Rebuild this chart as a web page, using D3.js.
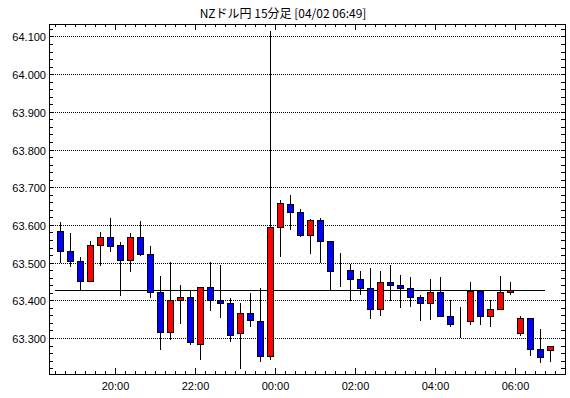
<!DOCTYPE html>
<html>
<head>
<meta charset="utf-8">
<script src="https://cdnjs.cloudflare.com/ajax/libs/d3/7.8.5/d3.min.js"></script>
<style>
  body { margin: 0; background: #fff; }
  svg { display: block; }
</style>
</head>
<body>
<div id="chart"></div>
<script>
const title = "NZドル円 15分足 [04/02 06:49]";

const times = [
  "18:30", "18:45", "19:00", "19:15", "19:30", "19:45", "20:00", "20:15", "20:30", "20:45",
  "21:00", "21:15", "21:30", "21:45", "22:00", "22:15", "22:30", "22:45", "23:00", "23:15",
  "23:30", "23:45", "00:00", "00:15", "00:30", "00:45", "01:00", "01:15", "01:30", "01:45",
  "02:00", "02:15", "02:30", "02:45", "03:00", "03:15", "03:30", "03:45", "04:00", "04:15",
  "04:30", "04:45", "05:00", "05:15", "05:30", "05:45", "06:00", "06:15", "06:30", "06:45"
];
const opens = [
  63.583, 63.530, 63.503, 63.450, 63.546, 63.567, 63.546, 63.506, 63.567, 63.522,
  63.421, 63.315, 63.402, 63.410, 63.285, 63.434, 63.402, 63.392, 63.312, 63.365,
  63.344, 63.253, 63.594, 63.656, 63.634, 63.573, 63.613, 63.557, 63.478, 63.480,
  63.456, 63.432, 63.376, 63.448, 63.440, 63.432, 63.410, 63.392, 63.421, 63.357,
  63.342, 63.344, 63.424, 63.357, 63.378, 63.422, 63.312, 63.352, 63.272, 63.267
];
const highs = [
  63.608, 63.579, 63.514, 63.557, 63.581, 63.619, 63.554, 63.579, 63.611, 63.544,
  63.464, 63.502, 63.440, 63.426, 63.434, 63.501, 63.494, 63.405, 63.394, 63.418,
  63.432, 64.115, 63.666, 63.680, 63.642, 63.615, 63.619, 63.557, 63.525, 63.496,
  63.478, 63.485, 63.478, 63.493, 63.467, 63.461, 63.413, 63.456, 63.462, 63.400,
  63.381, 63.448, 63.424, 63.400, 63.464, 63.448, 63.357, 63.352, 63.323, 63.280
];
const lows = [
  63.502, 63.491, 63.427, 63.450, 63.494, 63.530, 63.415, 63.479, 63.519, 63.409,
  63.272, 63.296, 63.339, 63.285, 63.244, 63.373, 63.355, 63.293, 63.219, 63.333,
  63.240, 63.245, 63.517, 63.589, 63.570, 63.525, 63.501, 63.427, 63.438, 63.400,
  63.416, 63.352, 63.362, 63.400, 63.381, 63.384, 63.347, 63.349, 63.357, 63.333,
  63.303, 63.336, 63.336, 63.331, 63.376, 63.416, 63.307, 63.256, 63.235, 63.238
];
const closes = [
  63.530, 63.503, 63.450, 63.546, 63.567, 63.543, 63.506, 63.567, 63.522, 63.421,
  63.315, 63.402, 63.410, 63.288, 63.434, 63.402, 63.392, 63.309, 63.365, 63.347,
  63.253, 63.594, 63.658, 63.634, 63.573, 63.613, 63.557, 63.477, 63.478, 63.456,
  63.432, 63.376, 63.448, 63.440, 63.432, 63.410, 63.392, 63.421, 63.357, 63.336,
  63.342, 63.424, 63.357, 63.378, 63.422, 63.427, 63.352, 63.272, 63.250, 63.280
];
const refLevel = 63.4266;
const yTicks = [63.3, 63.4, 63.5, 63.6, 63.7, 63.8, 63.9, 64.0, 64.1];
const xTickLabels = ["20:00", "22:00", "00:00", "02:00", "04:00", "06:00"];

const W = 570, H = 398;
const plotLeft = 49, plotRight = 565, plotTop = 24, plotBottom = 374;

// times after midnight belong to the next day
function toDate(s) {
  const [h, m] = s.split(":").map(Number);
  return new Date(2024, 3, h >= 12 ? 1 : 2, h, m);
}

const x = d3.scaleTime()
  .domain([new Date(2024, 3, 1, 18, 21), new Date(2024, 3, 2, 7, 15)])
  .range([plotLeft, plotRight]);
const y = d3.scaleLinear()
  .domain([63.2044, 64.133])
  .range([plotBottom, plotTop]);

const data = times.map((t, i) => ({
  t: toDate(t), o: opens[i], h: highs[i], l: lows[i], c: closes[i]
}));
const halfStep = 7.5 * 60 * 1000;
const cx = d => Math.round(x(new Date(d.t.getTime() + halfStep)));
const py = v => Math.round(y(v));

const svg = d3.select("#chart").append("svg")
  .attr("width", W).attr("height", H)
  .style("font-family", "'Liberation Sans', Arial, sans-serif");

svg.append("rect").attr("width", W).attr("height", H).attr("fill", "#fff");

svg.append("text")
  .attr("x", 283).attr("y", 18)
  .attr("text-anchor", "middle")
  .style("font-family", "'Noto Sans CJK JP', sans-serif")
  .style("font-size", "12px")
  .text(title);

// horizontal dotted grid
svg.append("g").selectAll("line")
  .data(yTicks).join("line")
  .attr("x1", plotLeft).attr("x2", plotRight)
  .attr("y1", d => py(d) + 0.5).attr("y2", d => py(d) + 0.5)
  .attr("stroke", "#000")
  .attr("stroke-dasharray", "1,1");

// y tick labels
svg.append("g").selectAll("text")
  .data(yTicks).join("text")
  .attr("x", 46).attr("y", d => py(d) + 4.5)
  .attr("text-anchor", "end")
  .style("font-size", "11px")
  .text(d => d3.format(".3f")(d));

// minor y ticks on both sides
const yMinor = d3.range(63.22, 64.13, 0.02);
const gy = svg.append("g").attr("stroke", "#000");
yMinor.forEach(v => {
  const yy = py(v) + 0.5;
  gy.append("line").attr("x1", plotLeft).attr("x2", plotLeft + 4).attr("y1", yy).attr("y2", yy);
  gy.append("line").attr("x1", plotRight - 4).attr("x2", plotRight).attr("y1", yy).attr("y2", yy);
});

// x ticks every 15 minutes top and bottom, longer every 2 hours
const xMinor = d3.timeMinute.every(15).range(x.domain()[0], x.domain()[1]);
const gx = svg.append("g").attr("stroke", "#000");
xMinor.forEach(t => {
  const xx = Math.round(x(t)) + 0.5;
  const major = t.getMinutes() === 0 && t.getHours() % 2 === 0;
  const len = major ? 6 : 3;
  gx.append("line").attr("x1", xx).attr("x2", xx).attr("y1", plotTop).attr("y2", plotTop + len);
  gx.append("line").attr("x1", xx).attr("x2", xx).attr("y1", plotBottom - len).attr("y2", plotBottom);
});

const majorTimes = xMinor.filter(t => t.getMinutes() === 0 && t.getHours() % 2 === 0);
svg.append("g").selectAll("text")
  .data(majorTimes).join("text")
  .attr("x", d => Math.round(x(d)) + 0.5)
  .attr("y", 390)
  .attr("text-anchor", "middle")
  .style("font-size", "11px")
  .text((d, i) => xTickLabels[i]);

// reference level line
svg.append("line")
  .attr("x1", Math.round(x(toDate(times[0]))))
  .attr("x2", Math.round(x(toDate(times[times.length - 1]))))
  .attr("y1", py(refLevel) + 0.5).attr("y2", py(refLevel) + 0.5)
  .attr("stroke", "#000").attr("stroke-width", 1);

// candles
const candles = svg.append("g").selectAll("g").data(data).join("g");
candles.append("line")
  .attr("x1", d => cx(d) + 0.5).attr("x2", d => cx(d) + 0.5)
  .attr("y1", d => py(d.h)).attr("y2", d => py(d.l) + 1)
  .attr("stroke", "#000");
candles.append("rect")
  .attr("x", d => cx(d) - 2.5)
  .attr("width", 6)
  .attr("y", d => py(Math.max(d.o, d.c)) + 0.5)
  .attr("height", d => py(Math.min(d.o, d.c)) - py(Math.max(d.o, d.c)))
  .attr("fill", d => d.c > d.o ? "#ff0000" : d.c < d.o ? "#0000ff" : "#000")
  .attr("stroke", "#000");

// frame
svg.append("rect")
  .attr("x", plotLeft + 0.5).attr("y", plotTop + 0.5)
  .attr("width", plotRight - plotLeft).attr("height", plotBottom - plotTop)
  .attr("fill", "none").attr("stroke", "#000");
</script>
</body>
</html>
